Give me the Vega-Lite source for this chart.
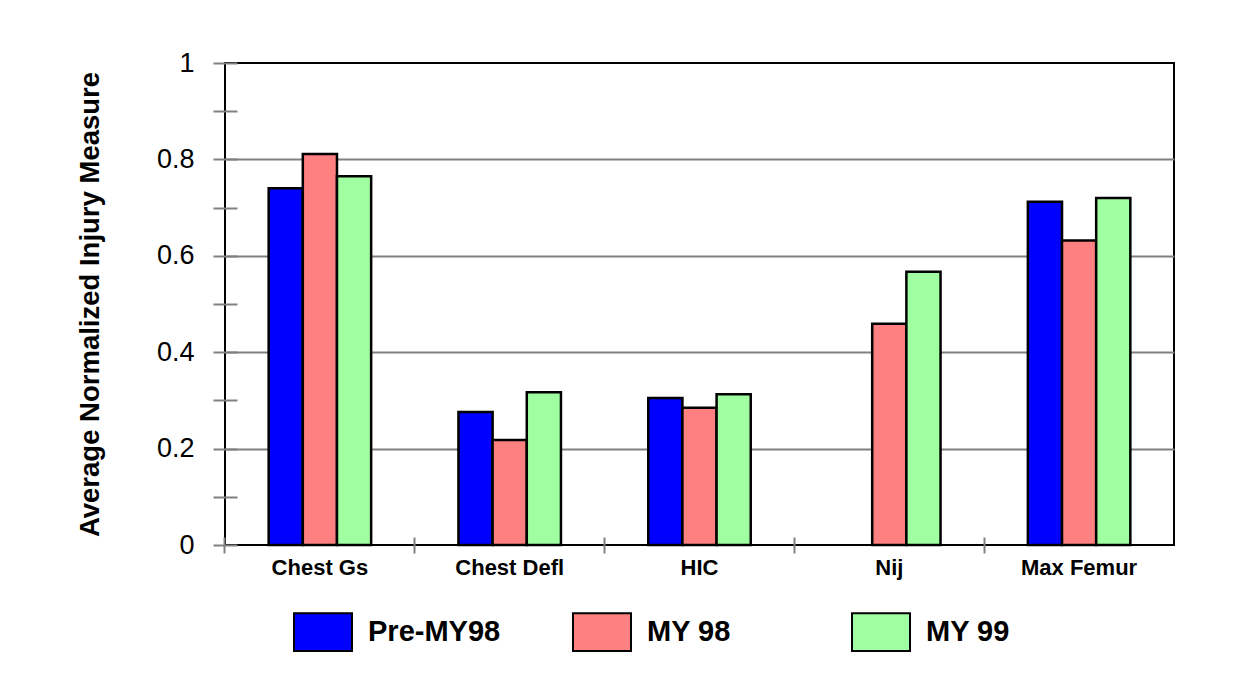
{
  "$schema": "https://vega.github.io/schema/vega-lite/v6.json",
  "width": 949,
  "height": 482,
  "autosize": {"type": "none"},
  "padding": {"left": 225, "top": 63, "right": 70, "bottom": 129},
  "background": "white",
  "config": {"view": {"stroke": "black", "strokeWidth": 2}, "font": "Liberation Sans"},
  "data": {
    "values": [
      {"measure": "Chest Gs", "series": "Pre-MY98", "value": 0.740},
      {"measure": "Chest Gs", "series": "MY 98", "value": 0.811},
      {"measure": "Chest Gs", "series": "MY 99", "value": 0.765},
      {"measure": "Chest Defl", "series": "Pre-MY98", "value": 0.276},
      {"measure": "Chest Defl", "series": "MY 98", "value": 0.218},
      {"measure": "Chest Defl", "series": "MY 99", "value": 0.317},
      {"measure": "HIC", "series": "Pre-MY98", "value": 0.305},
      {"measure": "HIC", "series": "MY 98", "value": 0.285},
      {"measure": "HIC", "series": "MY 99", "value": 0.313},
      {"measure": "Nij", "series": "MY 98", "value": 0.459},
      {"measure": "Nij", "series": "MY 99", "value": 0.567},
      {"measure": "Max Femur", "series": "Pre-MY98", "value": 0.712},
      {"measure": "Max Femur", "series": "MY 98", "value": 0.632},
      {"measure": "Max Femur", "series": "MY 99", "value": 0.720}
    ]
  },
  "mark": {"type": "bar", "stroke": "black", "strokeWidth": 2.5, "strokeJoin": "miter"},
  "encoding": {
    "x": {
      "field": "measure",
      "type": "nominal",
      "sort": ["Chest Gs", "Chest Defl", "HIC", "Nij", "Max Femur"],
      "scale": {"paddingInner": 0.46, "paddingOuter": 0.23},
      "axis": {
        "title": null,
        "labelAngle": 0,
        "labelFontSize": 22,
        "labelFontWeight": "bold",
        "labelColor": "black",
        "domain": false,
        "offset": -8,
        "tickSize": 16,
        "tickColor": "#808080",
        "tickWidth": 2,
        "bandPosition": -0.426,
        "labelPadding": 4,
        "grid": false
      }
    },
    "xOffset": {
      "field": "series",
      "type": "nominal",
      "scale": {"domain": ["Pre-MY98", "MY 98", "MY 99"], "paddingInner": 0, "paddingOuter": 0}
    },
    "y": {
      "field": "value",
      "type": "quantitative",
      "scale": {"domain": [0, 1], "nice": false},
      "axis": {
        "title": "Average Normalized Injury Measure",
        "titleFontSize": 27.5,
        "titleFontWeight": "bold",
        "titleColor": "black",
        "titlePadding": 52,
        "values": [0, 0.1, 0.2, 0.3, 0.4, 0.5, 0.6, 0.7, 0.8, 0.9, 1],
        "labelExpr": "round(datum.value*10)%2==0 ? format(datum.value, '~g') : ''",
        "labelFontSize": 27,
        "labelColor": "black",
        "labelPadding": 19,
        "domain": false,
        "offset": -12,
        "tickSize": 24,
        "tickColor": "#808080",
        "tickWidth": 2,
        "grid": true,
        "gridColor": "#808080",
        "gridWidth": 2,
        "gridOpacity": {"condition": {"test": "datum.value > 0.05 && datum.value < 0.95 && round(datum.value*10)%2==0", "value": 1}, "value": 0}
      }
    },
    "color": {
      "field": "series",
      "type": "nominal",
      "scale": {"domain": ["Pre-MY98", "MY 98", "MY 99"], "range": ["#0000FF", "#FF8080", "#A0FFA0"]},
      "legend": {
        "orient": "none",
        "legendX": 68,
        "legendY": 539,
        "direction": "horizontal",
        "columns": 3,
        "gridAlign": "all",
        "columnPadding": 68,
        "title": null,
        "symbolType": "M-1,-0.65H1V0.65H-1Z",
        "symbolSize": 3364,
        "symbolStrokeColor": "black",
        "symbolStrokeWidth": 2,
        "symbolOpacity": 1,
        "labelFontSize": 29,
        "labelFontWeight": "bold",
        "labelColor": "black",
        "labelOffset": 15,
        "labelLimit": 400,
        "padding": 0
      }
    }
  }
}
